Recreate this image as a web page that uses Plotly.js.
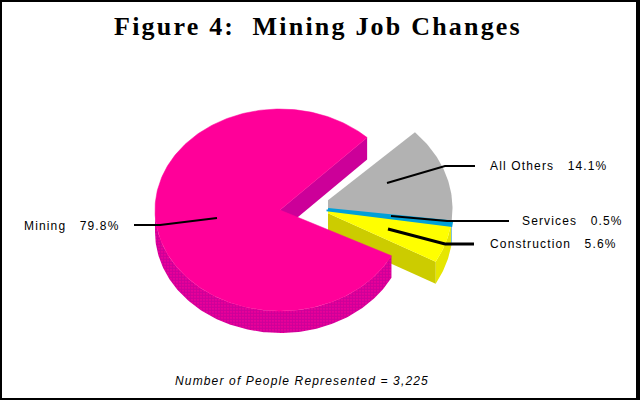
<!DOCTYPE html>
<html>
<head>
<meta charset="utf-8">
<script src="https://cdn.plot.ly/plotly-3.0.1.min.js"></script>
<style>
html,body{margin:0;padding:0;background:#fff}
.annotation-text{letter-spacing:1.15px}
.gtitle{letter-spacing:2.2px}
</style>
</head>
<body>
<div id="chart" style="width:640px;height:400px"></div>
<script>
var categories = ["All Others", "Services", "Construction", "Mining"];
var shares = [14.1, 0.5, 5.6, 79.8];
var titleText = "Figure 4:  Mining Job Changes";
var noteText = "Number of People Represented = 3,225";

var GEO = {
  main: {cx: 280, cy: 210, a: 125, b: 101},
  exploded: {cx: 317.5, cy: 208.5, a: 135, b: 110},
  depth: 22, startMain: 45.8, startExploded: 43.8, clipX: 328
};
var COL = {
  top: {"All Others": "#b2b2b2", "Services": "#00a0d8", "Construction": "#ffff00", "Mining": "#ff0099"},
  cut: {"Construction": "#cccc00", "Mining": "#cc0099"},
  rim: {"Services": "#0088c0", "Construction": "#e6e600", "Mining": "#dc009e"}
};

function pt(g, t, dy) {
  var r = t * Math.PI / 180;
  return [g.cx + g.a * Math.cos(r), g.cy - g.b * Math.sin(r) + (dy || 0)];
}
function arc(g, t0, t1, dy) {
  var n = Math.max(2, Math.ceil(Math.abs(t1 - t0))), out = [];
  for (var i = 0; i <= n; i++) out.push(pt(g, t0 + (t1 - t0) * i / n, dy));
  return out;
}
function clip(poly, xmin) {
  var out = [];
  for (var i = 0; i < poly.length; i++) {
    var p = poly[i], q = poly[(i + 1) % poly.length];
    var pin = p[0] >= xmin, qin = q[0] >= xmin;
    if (pin) out.push(p);
    if (pin !== qin) {
      var k = (xmin - p[0]) / (q[0] - p[0]);
      out.push([xmin, p[1] + k * (q[1] - p[1])]);
    }
  }
  return out;
}
function poly(name, points, color, lineW, pattern) {
  var closed = points.concat([points[0]]);
  var tr = {
    type: "scatter", mode: "lines", name: name, fill: "toself", fillcolor: color,
    x: closed.map(function (p) { return p[0]; }),
    y: closed.map(function (p) { return p[1]; }),
    line: {color: color, width: lineW || 0}, hoverinfo: "skip", showlegend: false
  };
  if (pattern) tr.fillpattern = pattern;
  return tr;
}
function wedge(g, t0, t1) { return [[g.cx, g.cy]].concat(arc(g, t0, t1)); }
function rim(g, t0, t1) { return arc(g, t0, t1, 0).concat(arc(g, t1, t0, GEO.depth)); }
function cut(g, t) {
  var e = pt(g, t, 0), e2 = pt(g, t, GEO.depth);
  return [[g.cx, g.cy], e, e2, [g.cx, g.cy + GEO.depth]];
}

var traces = [];
var ex = GEO.exploded, mn = GEO.main;
var angE = GEO.startExploded, angM = GEO.startMain, spans = {};
categories.forEach(function (c, i) {
  var sweep = shares[i] * 3.6;
  spans[c] = {e0: angE, e1: angE - sweep, m0: angM, m1: angM - sweep};
  angE -= sweep; angM -= sweep;
});

// exploded slices: sides first, then tops
var sC = spans["Construction"], sS = spans["Services"], sO = spans["All Others"], sM = spans["Mining"];
traces.push(poly("Services rim", rim(ex, sS.e0, sS.e1), COL.rim["Services"]));
traces.push(poly("Construction rim", rim(ex, sC.e0, sC.e1), COL.rim["Construction"]));
traces.push(poly("Construction cut", clip(cut(ex, sC.e1), GEO.clipX), COL.cut["Construction"]));
traces.push(poly("All Others", clip(wedge(ex, sO.e0, sO.e1), GEO.clipX), COL.top["All Others"]));
traces.push(poly("Construction", clip(wedge(ex, sC.e0, sC.e1), GEO.clipX), COL.top["Construction"]));
traces.push(poly("Services", clip(wedge(ex, sS.e0, sS.e1), GEO.clipX), COL.top["Services"], 3));

// main slice
traces.push(poly("Mining cut", cut(mn, sM.m1 + 360), COL.cut["Mining"]));
traces.push(poly("Mining rim", rim(mn, sM.m0, -180), COL.rim["Mining"], 0,
  {shape: ".", size: 3, solidity: 0.75, fgcolor: "#cc0099", bgcolor: "#ff0099"}));
traces.push(poly("Mining", wedge(mn, sM.m0, sM.m1), COL.top["Mining"], 0.5));

// leader lines
var leaders = [
  {x: [134, 160, 217], y: [225, 225, 218], w: 2},
  {x: [387, 445, 475], y: [183, 166, 166], w: 2},
  {x: [391, 447, 509], y: [216, 221, 221], w: 2},
  {x: [388, 445, 474], y: [229, 244, 244], w: 3}
];
leaders.forEach(function (l, i) {
  traces.push({type: "scatter", mode: "lines", name: "leader " + i, x: l.x, y: l.y,
    line: {color: "#000", width: l.w}, hoverinfo: "skip", showlegend: false});
});

function label(c, i, x, y, gap) {
  return {x: x, y: y, xref: "x", yref: "y", xanchor: "left", yanchor: "middle", showarrow: false,
    text: c + gap + shares[i].toFixed(1) + "%",
    font: {family: "Liberation Sans, Arial, sans-serif", size: 12, color: "#000"}};
}
var annotations = [
  label(categories[3], 3, 22, 226, "   "),
  label(categories[0], 0, 488, 166, "   "),
  label(categories[1], 1, 520, 221, "   "),
  label(categories[2], 2, 488, 244, "   "),
  {x: 173, y: 381, xref: "x", yref: "y", xanchor: "left", yanchor: "middle", showarrow: false,
   text: "<i>" + noteText + "</i>",
   font: {family: "Liberation Sans, Arial, sans-serif", size: 12, color: "#000"}}
];

function bar(x0, y0, x1, y1) {
  return {type: "rect", xref: "x", yref: "y", x0: x0, y0: y0, x1: x1, y1: y1,
    fillcolor: "#000", line: {width: 0}, layer: "above"};
}

var layout = {
  width: 640, height: 400, margin: {l: 0, r: 0, t: 0, b: 0},
  paper_bgcolor: "#fff", plot_bgcolor: "#fff", showlegend: false,
  title: {text: "<b>" + titleText + "</b>", x: 318 / 640, xanchor: "center", y: 1 - 26 / 400, yanchor: "middle",
    font: {family: "Liberation Serif, serif", size: 26, color: "#000"}},
  xaxis: {range: [0, 640], visible: false, fixedrange: true},
  yaxis: {range: [400, 0], visible: false, fixedrange: true},
  annotations: annotations,
  shapes: [bar(0, 0, 640, 2), bar(0, 398, 640, 400), bar(0, 0, 2, 400), bar(636, 0, 640, 400)]
};
Plotly.newPlot("chart", traces, layout, {displayModeBar: false, staticPlot: true});
</script>
</body>
</html>
